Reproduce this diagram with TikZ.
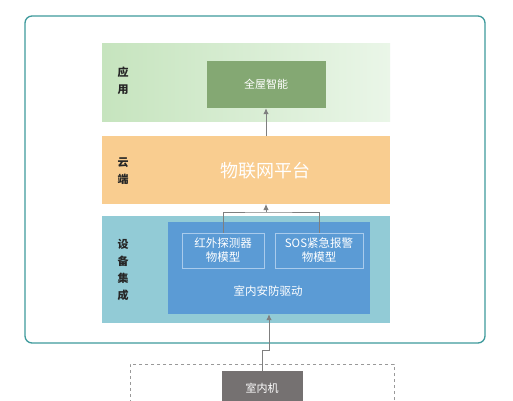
\documentclass[tikz,border=0pt]{standalone}
\usepackage{fontspec}
\setmainfont{Noto Sans CJK SC}
\usepackage{xcolor}
\usetikzlibrary{shapes,arrows.meta,positioning,calc}

\definecolor{frameC}{HTML}{3E9A9C}
\definecolor{appL}{HTML}{C6E4BE}
\definecolor{appR}{HTML}{EAF6E8}
\definecolor{smartC}{HTML}{84A873}
\definecolor{cloudC}{HTML}{F9CD90}
\definecolor{devC}{HTML}{92CBD6}
\definecolor{drvC}{HTML}{5B9BD5}
\definecolor{modC}{HTML}{A9CBEC}
\definecolor{unitC}{HTML}{757171}
\definecolor{linkC}{HTML}{7F7F7F}

\tikzset{
  band/.style={rectangle, inner sep=0pt, outer sep=0pt, minimum width=288pt},
  layer/.style={font=\bfseries\fontsize{11}{17}\selectfont, text=black!85, align=center},
  model/.style={rectangle, draw=modC, line width=0.6pt, inner sep=0pt, minimum height=35pt,
    text=white, align=center, font=\fontsize{11.5}{14}\selectfont},
  link/.style={draw=linkC, line width=0.9pt},
  tip/.style={-{Latex[length=6pt,width=5.5pt]}}
}

\begin{document}
\begin{tikzpicture}[x=1pt, y=-1pt]
\clip (0,0) rectangle (513,400);
\fill[white] (0,0) rectangle (513,400);

% layers
\node[band, left color=appL, right color=appR, minimum height=78pt] (app) at (246,82) {};
\node[band, fill=cloudC, minimum height=68pt] (cloud) at (246,170) {};
\node[band, fill=devC, minimum height=107pt] (dev) at (246,269.5) {};

\node[layer] (appl) at (123,81) {应\\用};
\node[layer] (cloudl) at (123,171) {云\\端};
\node[layer] (devl) at (123,270) {设\\备\\集\\成};

% boxes
\node[rectangle, fill=smartC, inner sep=0pt, minimum width=119pt, minimum height=47pt,
  text=white, font=\fontsize{11}{13}\selectfont] (smart) at (266,84.5) {全屋智能};
\node[text=white, font=\fontsize{18}{20}\selectfont] (iot) at (265,171) {物联网平台};

\node[rectangle, fill=drvC, inner sep=0pt, minimum width=202pt, minimum height=92pt] (drv) at (269,268) {};
\node[model, minimum width=82pt] (ir) at (223,250.5) {红外探测器\\物模型};
\node[model, minimum width=88pt] (sos) at (319,250.5) {SOS紧急报警\\物模型};
\node[text=white, font=\fontsize{11.5}{13}\selectfont] (drvl) at (268,291) {室内安防驱动};

% frame
\node[rectangle, draw=frameC, line width=1.3pt, rounded corners=7pt, inner sep=0pt,
  minimum width=460pt, minimum height=327pt] (frm) at (255,179.5) {};

% device below
\node[rectangle, draw=black!40, dashed, line width=0.6pt, inner sep=0pt,
  minimum width=264pt, minimum height=60pt] (dash) at (262,394) {};
\node[rectangle, fill=unitC, inner sep=0pt, minimum width=81pt, minimum height=34pt,
  text=white, font=\fontsize{11}{13}\selectfont] (unit) at (262,388) {室内机};

% connections
\coordinate (jn) at (266,212);
\draw[link] (ir.north) |- (jn) -| (sos.north);
\draw[link, tip] (jn) -- (jn |- cloud.south);
\draw[link, tip] (smart.south |- cloud.north) -- (smart.south);
\draw[link, tip] (unit.north) -- ++(0,-20) -| (drv.south);
\end{tikzpicture}
\end{document}
